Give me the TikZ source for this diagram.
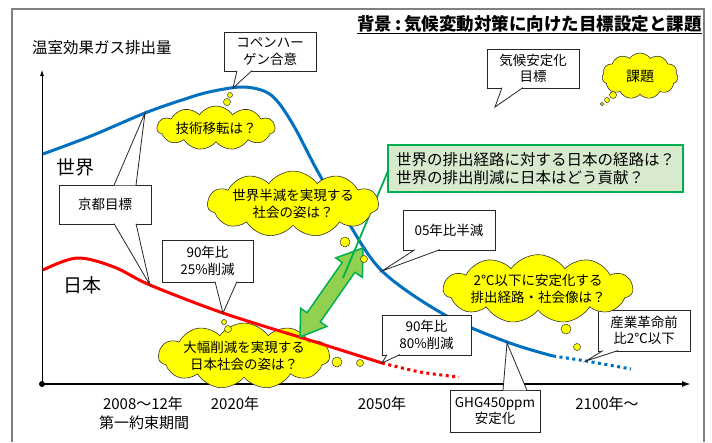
\documentclass[tikz,border=0pt]{standalone}
\usepackage{fontspec}
\setmainfont{Noto Sans CJK JP}
\usetikzlibrary{shapes.symbols,arrows.meta,calc}
\definecolor{wblue}{RGB}{0,112,192}
\definecolor{ygold}{RGB}{255,255,0}
\definecolor{agreen}{RGB}{146,208,80}
\definecolor{bgreen}{RGB}{0,176,80}
\definecolor{boxgreen}{RGB}{216,234,206}
\begin{document}
\begin{tikzpicture}[x=1pt,y=-1pt,
 callout/.style={draw=black!85, line width=0.8pt, fill=white, inner sep=0pt, align=center, font=\fontsize{13.5}{16.5}\selectfont},
 ptr/.style={draw=black!85, line width=0.8pt, fill=white, line join=miter},
 thought/.style={cloud, cloud puffs=11, cloud puff arc=110, cloud ignores aspect, draw=black!80, line width=0.6pt, fill=ygold, inner sep=0pt, align=center, font=\fontsize{13.5}{17.5}\selectfont},
 bub/.style={circle, draw=black!80, line width=0.5pt, fill=ygold, inner sep=0pt},
 lbl/.style={font=\fontsize{15}{19}\selectfont, align=center, inner sep=0pt},
 big/.style={font=\fontsize{19}{22}\selectfont, inner sep=0pt},
]
\useasboundingbox (0,0) rectangle (712,442);
% frame
\draw[gray, line width=1.2pt] (12,442) -- (12,9) -- (704,9) -- (704,442);
% title
\node[font=\bfseries\fontsize{17.5}{20}\selectfont, anchor=east, inner sep=0pt] (title) at (702,24) {背景\,:\,気候変動対策に向けた目標設定と課題};
\draw[line width=1pt] (title.west |- 0,33) -- (title.east |- 0,33);
% y label
\node[lbl, font=\fontsize{15.5}{19}\selectfont, anchor=west] (ylab) at (32,48) {温室効果ガス排出量};
% axes
\coordinate (O) at (42,384);
\coordinate (ytop) at (42,70);
\coordinate (xend) at (691,384);
\draw[line width=0.7pt, -{Latex[length=6pt,width=4pt]}] (O) -- (ytop);
\draw[line width=1.6pt, -{Latex[length=9pt,width=6pt]}] (O) -- (xend);
\fill (O) circle (3pt);
% lower cloud (under red curve)
\node[thought, minimum width=146, minimum height=48] (cD) at (244,356) {大幅削減を実現する\\日本社会の姿は？};
% curves
\draw[wblue, line width=3pt] plot[smooth, tension=0.55] coordinates {(43,154) (91,136) (145,113) (182,100) (209,92) (241,87) (264,91) (278,102) (295,128) (318,172) (345,217) (382,271) (445,315) (507,342) (553,356)};
\draw[wblue, line width=3pt, dash pattern=on 3pt off 3.5pt] plot[smooth] coordinates {(553,356) (586,361) (631,369)};
\draw[red, line width=3pt] plot[smooth, tension=0.55] coordinates {(43,270) (77,258) (114,267) (150,285) (223,313) (309,340) (382,363)};
\draw[red, line width=3pt, dash pattern=on 3pt off 3.5pt] plot[smooth] coordinates {(382,363) (420,372) (459,377)};
% pointer targets
\coordinate (kb) at (145,113);
\coordinate (kr) at (150,285);
\coordinate (cp) at (233,88);
\coordinate (p25) at (223,313);
\coordinate (p05) at (382,271);
\coordinate (p80) at (382,363);
\coordinate (pghg) at (507,343);
\coordinate (p2c) at (586,361);
\coordinate (pkt) at (495,107);
% green double arrow
\filldraw[fill=agreen, draw=bgreen, line width=1.5pt, line join=miter]
 (300,337) -- (326.8,326.4) -- (320.3,321.9) -- (354.9,272.3) -- (362.4,277.3) -- (363,248)
 -- (335.7,257.9) -- (342.2,262.4) -- (307.1,312.7) -- (300.6,308.2) -- cycle;
% green box
\node[draw=bgreen, line width=2.2pt, fill=boxgreen, minimum width=295, minimum height=47, inner sep=0pt, align=left, font=\fontsize{15.5}{18}\selectfont] (gbox) at (535.5,168.5) {世界の排出経路に対する日本の経路は？\\世界の排出削減に日本はどう貢献？};
\coordinate (gstart) at (388,171);
\coordinate (gtip) at (343,278);
\draw[bgreen, line width=1.8pt] (gstart) -- (gtip);
% callouts
\node[callout, minimum width=92, minimum height=39] (cop) at (270,51.5) {コペンハー\\ゲン合意};
\filldraw[ptr] (237,70.6) -- (cp) -- (252,70.6);
\node[callout, minimum width=92, minimum height=39] (kiko) at (533,68.5) {気候安定化\\目標};
\filldraw[ptr] (502,87.6) -- (pkt) -- (523,87.6);
\node[callout, minimum width=92, minimum height=39] (kyoto) at (105,204.5) {京都目標};
\filldraw[ptr] (114,185.4) -- (kb) -- (136,185.4);
\filldraw[ptr] (114,223.6) -- (kr) -- (136,223.6);
\node[callout, minimum width=91, minimum height=42] (b25) at (207.5,261) {90年比\\25\%削減};
\filldraw[ptr] (215,281.6) -- (p25) -- (237,281.6);
\node[callout, minimum width=92, minimum height=40] (b05) at (449,230) {05年比半減};
\filldraw[ptr] (415,249.6) -- (p05) -- (440,249.6);
\node[callout, minimum width=89, minimum height=40] (b80) at (426.5,335) {90年比\\80\%削減};
\filldraw[ptr] (387,354.6) -- (p80) -- (400,354.6);
\node[callout, minimum width=90, minimum height=42] (ghg) at (495,411) {GHG450ppm\\安定化};
\filldraw[ptr] (503,390.4) -- (pghg) -- (527,390.4);
\node[callout, minimum width=92, minimum height=41] (sangyo) at (644,330.5) {産業革命前\\比2℃以下};
\filldraw[ptr] (603,350.6) -- (p2c) -- (618,350.6);
% clouds
\node[thought, minimum width=118, minimum height=44] (cA) at (216,128) {技術移転は？};
\node[bub, minimum size=7] (a1) at (227,102) {};
\node[bub, minimum size=5] (a2) at (230,95) {};
\node[thought, minimum width=142, minimum height=57] (cB) at (293,204) {世界半減を実現する\\社会の姿は？};
\node[bub, minimum size=10] (b1) at (345,242) {};
\node[bub, minimum size=7] (b2) at (364,259) {};
\node[thought, minimum width=178, minimum height=53] (cC) at (538,289) {2℃以下に安定化する\\排出経路・社会像は？};
\node[bub, minimum size=10] (c1) at (566,329) {};
\node[bub, minimum size=7] (c2) at (577,347) {};
\node[bub, minimum size=7] (d1) at (228,329) {};
\node[bub, minimum size=5] (d2) at (224,322) {};
\node[bub, minimum size=10] (d3) at (337,362) {};
\node[bub, minimum size=7] (d4) at (360,363) {};
\node[thought, minimum width=76, minimum height=46, font=\fontsize{14}{17}\selectfont] (cE) at (640,76) {課題};
\node[bub, minimum size=7] (e1) at (613,95) {};
\node[bub, minimum size=5] (e2) at (607,100) {};
\node[bub, minimum size=3.5] (e3) at (602,104) {};
% labels
\node[big] (sekai) at (75,167) {世界};
\node[big] (nihon) at (82,285) {日本};
\node[lbl] (x1) at (143,404) {2008～12年};
\node[lbl] (x1b) at (144,423) {第一約束期間};
\node[lbl] (x2) at (235,404) {2020年};
\node[lbl] (x3) at (382,404) {2050年};
\node[lbl] (x4) at (607,404) {2100年～};
\end{tikzpicture}
\end{document}
